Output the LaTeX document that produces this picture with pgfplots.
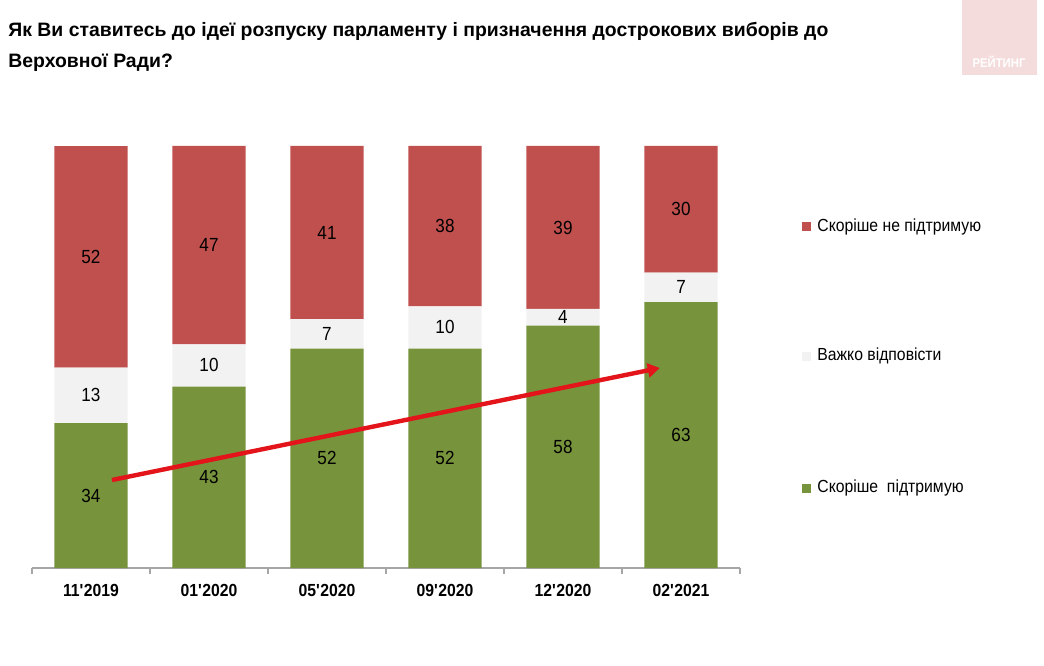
\documentclass[border=0pt]{standalone}
\usepackage{pgfplots}
\pgfplotsset{compat=1.18}
\usepackage{pgfplotstable}
\usepackage{fontspec}
\setmainfont{Liberation Sans}[FakeStretch=0.9]
\newfontfamily\titlefont{Liberation Sans}
\usetikzlibrary{arrows.meta}
\definecolor{cred}{HTML}{C0504D}
\definecolor{cgrey}{HTML}{F2F2F2}
\definecolor{cgreen}{HTML}{77933C}
\definecolor{carrow}{HTML}{E3141A}
\definecolor{clogo}{HTML}{F4DCDC}
\pgfplotstableread{
x g w r
0 34 13 52
1 43 10 47
2 52 7 41
3 52 10 38
4 58 4 39
5 63 7 30
}\data
\begin{document}
\begin{tikzpicture}
\path[use as bounding box] (0pt,0pt) rectangle (522pt,332.5pt);
\coordinate (O) at (16pt,48.5pt);
\fill[clogo] (481pt,295pt) rectangle (518.5pt,332.5pt);
\node[white, inner sep=0, font=\bfseries\fontsize{6.3}{7}\selectfont] at (499.5pt,301.5pt) {РЕЙТИНГ};
\node[anchor=base west, inner sep=0, font=\titlefont\bfseries\fontsize{9.7}{11}\selectfont] at (4pt,314pt) {Як Ви ставитесь до ідеї розпуску парламенту і призначення дострокових виборів до};
\node[anchor=base west, inner sep=0, font=\titlefont\bfseries\fontsize{9.7}{11}\selectfont] at (4pt,298.5pt) {Верховної Ради?};
\begin{axis}[
  at={(O)}, anchor=south west, scale only axis, width=354pt, height=211pt,
  xmin=-0.5, xmax=5.5, ymin=0, ymax=100,
  ybar stacked, bar width=0.62,
  axis x line*=bottom, axis y line=none,
  xtick={0,...,5},
  xticklabels={11\textquotesingle 2019,01\textquotesingle 2020,05\textquotesingle 2020,09\textquotesingle 2020,12\textquotesingle 2020,02\textquotesingle 2021},
  major x tick style={draw=none},
  minor xtick={-0.5,0.5,...,5.5},
  minor tick length=3pt, tick align=outside,
  x axis line style={draw=gray!70, line width=0.6pt},
  minor x tick style={draw=gray!70, line width=0.6pt},
  xticklabel style={font=\bfseries\fontsize{8.75}{10}\selectfont, yshift=-0.5pt},
  clip=false,
]
\addplot[fill=cgreen, draw=none] table[x=x, y expr=\thisrow{g}*100/(\thisrow{g}+\thisrow{w}+\thisrow{r})] \data;
\addplot[fill=cgrey, draw=none] table[x=x, y expr=\thisrow{w}*100/(\thisrow{g}+\thisrow{w}+\thisrow{r})] \data;
\addplot[fill=cred, draw=none] table[x=x, y expr=\thisrow{r}*100/(\thisrow{g}+\thisrow{w}+\thisrow{r})] \data;
\end{axis}
\begin{axis}[
  at={(O)}, anchor=south west, scale only axis, width=354pt, height=211pt,
  xmin=-0.5, xmax=5.5, ymin=0, ymax=100, hide axis, clip=false,
  nodes near coords, nodes near coords align={center}, point meta=explicit,
  every node near coord/.append style={font=\fontsize{9.5}{11}\selectfont, text=black, inner sep=0},
  /pgf/number format/assume math mode=true,
]
\draw[carrow, line width=2.2pt, -{Triangle[length=6pt,width=7pt]}] (axis cs:0.178,20.85) -- (axis cs:4.82,47.4);
\addplot[draw=none, mark=none] table[x=x, meta=g, y expr=\thisrow{g}*50/(\thisrow{g}+\thisrow{w}+\thisrow{r})] \data;
\addplot[draw=none, mark=none] table[x=x, meta=w, y expr=(\thisrow{g}+0.5*\thisrow{w})*100/(\thisrow{g}+\thisrow{w}+\thisrow{r})] \data;
\addplot[draw=none, mark=none] table[x=x, meta=r, y expr=(\thisrow{g}+\thisrow{w}+0.5*\thisrow{r})*100/(\thisrow{g}+\thisrow{w}+\thisrow{r})] \data;
\end{axis}
\fill[cred] (401pt,216.75pt) rectangle (405.5pt,221.25pt);
\node[anchor=west, inner sep=0, font=\fontsize{8.75}{10}\selectfont] at (408.5pt,219pt) {Скоріше не підтримую};
\fill[cgrey] (401pt,152.25pt) rectangle (405.5pt,156.75pt);
\node[anchor=west, inner sep=0, font=\fontsize{8.75}{10}\selectfont] at (408.5pt,154.5pt) {Важко відповісти};
\fill[cgreen] (401pt,86.25pt) rectangle (405.5pt,90.75pt);
\node[anchor=west, inner sep=0, font=\fontsize{8.75}{10}\selectfont] at (408.5pt,88.5pt) {Скоріше\ \ підтримую};
\end{tikzpicture}
\end{document}
